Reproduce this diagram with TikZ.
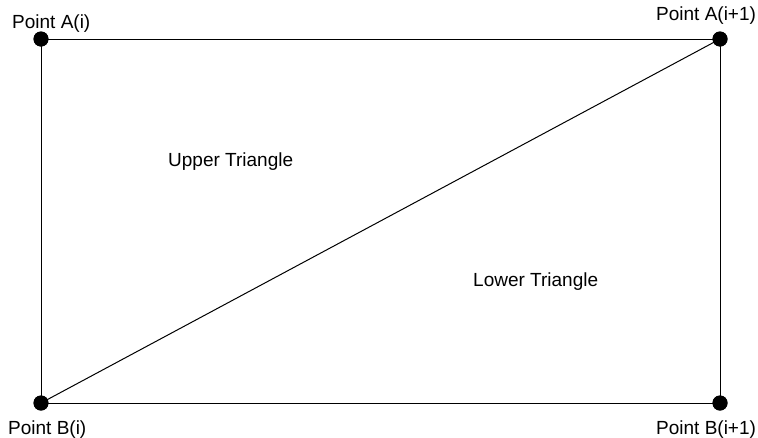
\documentclass[tikz,border=0pt]{standalone}
\usepackage{fontspec}
\setmainfont{Liberation Sans}
\begin{document}
\begin{tikzpicture}[x=1pt,y=-1pt,
  pt/.style={circle,fill=black,inner sep=0pt,minimum size=15pt},
  lbl/.style={anchor=base west,inner sep=0pt,font=\fontsize{19}{21}\selectfont},
  edge/.style={line width=1pt}]
\useasboundingbox[fill=white] (0,0) rectangle (758,437);
\node[pt] (Ai) at (41,39) {};
\node[pt] (Aj) at (720,39) {};
\node[pt] (Bi) at (41,403) {};
\node[pt] (Bj) at (720,403) {};
\draw[edge] (Ai.center) -- (Aj.center) -- (Bj.center) -- (Bi.center) -- (Ai.center);
\draw[edge] (Bi.center) -- (Aj.center);
\node[pt] at (Ai) {};
\node[pt] at (Aj) {};
\node[pt] at (Bi) {};
\node[pt] at (Bj) {};
\node[lbl] (lAi) at (12,28) {Point A(i)};
\node[lbl] (lAj) at (656,20) {Point A(i+1)};
\node[lbl] (lBi) at (8,434) {Point B(i)};
\node[lbl] (lBj) at (656,434) {Point B(i+1)};
\node[lbl] (up) at (168,166.5) {Upper Triangle};
\node[lbl] (lo) at (473,286) {Lower Triangle};
\end{tikzpicture}
\end{document}
